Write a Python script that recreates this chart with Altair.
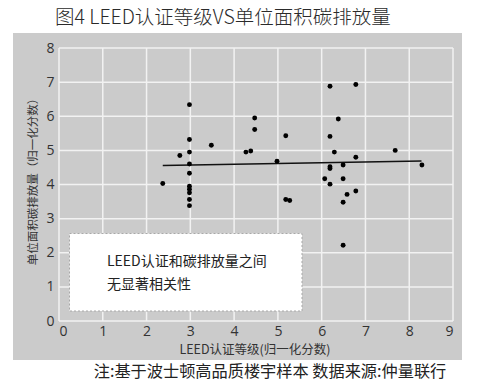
import altair as alt
import pandas as pd

# ---- data ----
leed_score = [2.37, 2.76, 2.98, 2.98, 2.98, 2.98, 2.98, 2.98, 2.98, 2.98, 2.98, 2.98,
              3.48, 4.27, 4.38, 4.47, 4.47, 4.98, 5.18, 5.18, 5.27,
              6.19, 6.78, 6.38, 6.19, 6.29, 6.78, 7.68, 8.29, 6.49, 6.19, 6.19,
              6.07, 6.49, 6.19, 6.58, 6.78, 6.49, 6.49]
carbon_score = [4.03, 4.85, 6.34, 5.32, 4.95, 4.60, 4.33, 3.95, 3.86, 3.76, 3.56, 3.38,
                5.15, 4.95, 4.98, 5.95, 5.61, 4.68, 5.43, 3.56, 3.53,
                6.88, 6.93, 5.92, 5.41, 4.95, 4.80, 5.00, 4.57, 4.57, 4.52, 4.47,
                4.17, 4.17, 4.01, 3.71, 3.81, 3.48, 2.22]
trend_x = [2.37, 8.28]
trend_y = [4.56, 4.69]
x_ticks = [0, 1, 2, 3, 4, 5, 6, 7, 8, 9]
y_ticks = [0, 1, 2, 3, 4, 5, 6, 7, 8]

title_text = "图4  LEED认证等级VS单位面积碳排放量"
x_title = "LEED认证等级(归一化分数)"
y_title = "单位面积碳排放量（归一化分数）"
note_lines = ["LEED认证和碳排放量之间", "无显著相关性"]
footer_text = "注:基于波士顿高品质楼宇样本  数据来源:仲量联行"

pts = pd.DataFrame({"x": leed_score, "y": carbon_score})
trend = pd.DataFrame({"x": trend_x, "y": trend_y})
xt = pd.DataFrame({"x": x_ticks})
yt = pd.DataFrame({"y": y_ticks})
one = pd.DataFrame({"k": [0]})

CJK = "Noto Sans CJK SC"
W, H = 394, 273

xscale = alt.Scale(domain=[0, 9], nice=False, zero=False)
yscale = alt.Scale(domain=[0, 8], nice=False, zero=False)

xaxis = alt.Axis(values=x_ticks, grid=False, domain=False, ticks=False, title=None,
                 labelFontSize=14, labelColor="#333333", labelFont="Open Sans",
                 labelPadding=3, labelOverlap=False, zindex=1)
yaxis = alt.Axis(values=y_ticks, grid=False, domain=False, ticks=False, title=None,
                 labelFontSize=14, labelColor="#333333", labelFont="Open Sans",
                 labelPadding=5, labelOverlap=False, zindex=1)

X = alt.X("x:Q", scale=xscale, axis=xaxis)
Y = alt.Y("y:Q", scale=yscale, axis=yaxis)

panel = alt.Chart(one).mark_rect(color="#cbcbcb").encode(
    x=alt.value(-46), x2=alt.value(403), y=alt.value(-15), y2=alt.value(312))

gridx = alt.Chart(xt).mark_rule(color="#f2f2f2", strokeWidth=1.5).encode(x=X)
gridy = alt.Chart(yt).mark_rule(color="#f2f2f2", strokeWidth=1.5).encode(y=Y)

box = alt.Chart(one).mark_rect(fill="white", stroke="#a8a8a8", strokeWidth=1,
                               strokeDash=[2, 2]).encode(
    x=alt.value(10.5), x2=alt.value(243), y=alt.value(185.5), y2=alt.value(263))

note1 = alt.Chart(one).mark_text(text=note_lines[0], align="left", baseline="middle",
                                 font=CJK, fontSize=14, color="#222222").encode(
    x=alt.value(48), y=alt.value(214))
note2 = alt.Chart(one).mark_text(text=note_lines[1], align="left", baseline="middle",
                                 font=CJK, fontSize=14, color="#222222").encode(
    x=alt.value(48), y=alt.value(237))

line = alt.Chart(trend).mark_line(color="#111111", strokeWidth=1.5).encode(x=X, y=Y)

dots = alt.Chart(pts).mark_circle(color="black", opacity=1, size=24).encode(x=X, y=Y)

title = alt.Chart(one).mark_text(text=title_text, align="left", baseline="middle",
                                 font=CJK, fontSize=19.5, fontWeight=300,
                                 color="#2a2a2a").encode(
    x=alt.value(-4), y=alt.value(-30))

xlab = alt.Chart(one).mark_text(text=x_title, align="center", baseline="middle",
                                font=CJK, fontSize=12.5, color="#333333").encode(
    x=alt.value(196), y=alt.value(302))
ylab = alt.Chart(one).mark_text(text=y_title, align="center", baseline="middle",
                                font=CJK, fontSize=11.5, color="#333333", angle=270).encode(
    x=alt.value(-25), y=alt.value(131))

footer = alt.Chart(one).mark_text(text=footer_text, align="center", baseline="middle",
                                  font=CJK, fontSize=16.2, color="#222222").encode(
    x=alt.value(211), y=alt.value(324))

chart = alt.layer(panel, gridx, gridy, box, note1, note2, line, dots,
                  title, xlab, ylab, footer).properties(
    width=W, height=H,
    autosize=alt.AutoSizeParams(type="none"),
    padding={"left": 51, "top": 40, "right": 12, "bottom": 63},
).configure_view(strokeWidth=0)

chart.save("out.html", embed_options={"renderer": "svg", "actions": False})
